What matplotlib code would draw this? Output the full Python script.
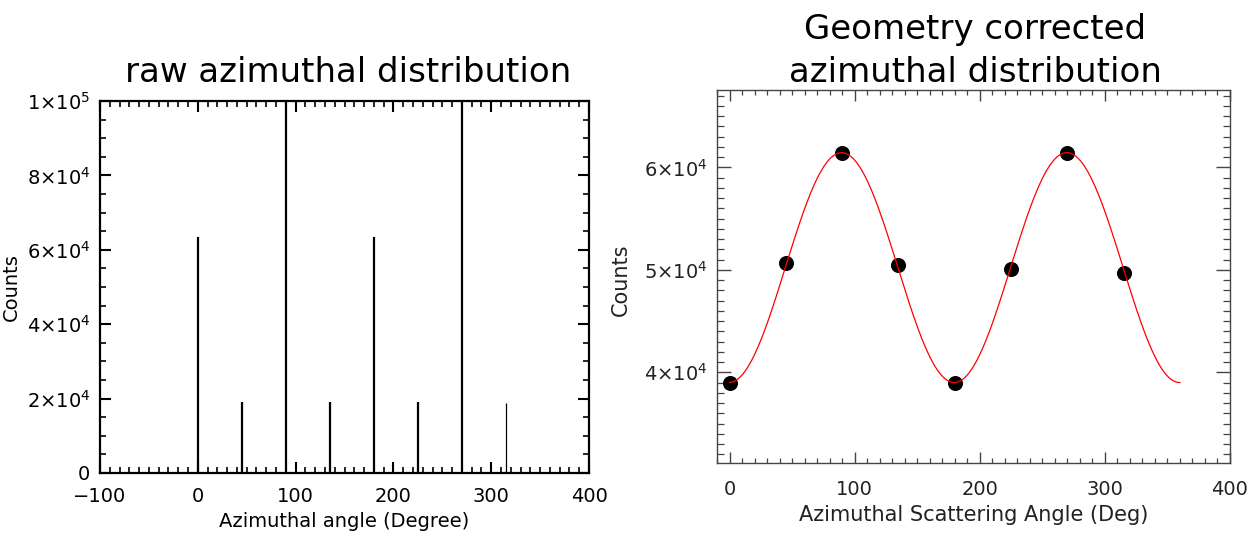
import numpy as np
import matplotlib
matplotlib.use("Agg")
import matplotlib.pyplot as plt
from matplotlib.ticker import MultipleLocator, FixedLocator

# ---- data ----
raw_angles = [0, 45, 90, 135, 180, 225, 270, 315]
raw_counts = [63500, 19100, 130000, 19100, 63500, 19100, 130000, 18900]
raw_widths = [1.6, 1.6, 1.6, 1.6, 1.6, 1.6, 1.6, 0.9]

corr_angles = [0, 45, 90, 135, 180, 225, 270, 315]
corr_counts = [38990, 50710, 61420, 50490, 38990, 50070, 61420, 49680]

left_yticks = [0, 20000, 40000, 60000, 80000, 100000]
left_yticklabels = ["0", "2×10$^{4}$", "4×10$^{4}$", "6×10$^{4}$",
                    "8×10$^{4}$", "1×10$^{5}$"]
left_xticks = [-100, 0, 100, 200, 300, 400]
left_xticklabels = ["−100", "0", "100", "200", "300", "400"]
right_yticks = [40000, 50000, 60000]
right_yticklabels = ["4×10$^{4}$", "5×10$^{4}$", "6×10$^{4}$"]
right_xticks = [0, 100, 200, 300, 400]

plt.rcParams['font.family'] = ['DejaVu Sans']
plt.rcParams['mathtext.fontset'] = 'dejavusans'

fig = plt.figure(figsize=(12.5, 5.38), dpi=100)
W, H = 1250.0, 538.0

# ---- left panel ----
axL = fig.add_axes([100 / W, 1 - 473 / H, 489 / W, (473 - 101) / H])
for a, c, w in zip(raw_angles, raw_counts, raw_widths):
    axL.vlines(a, 0, c, color='black', linewidth=w)
axL.set_xlim(-100, 400)
axL.set_ylim(0, 100000)
axL.xaxis.set_major_locator(FixedLocator(left_xticks))
axL.xaxis.set_minor_locator(MultipleLocator(10))
axL.yaxis.set_major_locator(FixedLocator(left_yticks))
axL.yaxis.set_minor_locator(MultipleLocator(5000))
axL.set_yticklabels(left_yticklabels)
axL.set_xticklabels(left_xticklabels)
for s in axL.spines.values():
    s.set_linewidth(1.6)
    s.set_color('black')
axL.tick_params(which='both', direction='in', top=True, right=True, colors='black')
axL.tick_params(which='major', length=8, width=1.5, labelsize=14, pad=7)
axL.tick_params(which='minor', length=4, width=1.2)
axL.tick_params(axis='x', which='major', pad=10)
axL.set_xlabel("Azimuthal angle (Degree)", fontsize=14)
axL.xaxis.set_label_coords(0.5, -(527 - 473) / 372.0, transform=axL.transAxes)
axL.xaxis.label.set_va('baseline')
axL.set_ylabel("Counts", fontsize=14)
axL.yaxis.set_label_coords(-(100 - 11) / 489.0, 0.5)
axL.yaxis.label.set_va('center')
fig.text(348 / W, 1 - 82 / H, "raw azimuthal distribution", fontsize=24.5,
         ha='center', va='baseline')

# ---- right panel ----
gray = '#444444'
axR = fig.add_axes([717 / W, 1 - 463 / H, 513 / W, (463 - 90) / H])
# least-squares fit of a + b*cos(2phi) + c*sin(2phi) to the points
phi = np.radians(corr_angles)
A = np.column_stack([np.ones_like(phi), np.cos(2 * phi), np.sin(2 * phi)])
coef, *_ = np.linalg.lstsq(A, np.array(corr_counts, dtype=float), rcond=None)
xf = np.linspace(0, 360, 400)
pf = np.radians(xf)
yf = coef[0] + coef[1] * np.cos(2 * pf) + coef[2] * np.sin(2 * pf)
axR.plot(corr_angles, corr_counts, 'o', color='black', markersize=9.8, zorder=2)
axR.plot(xf, yf, color='red', linewidth=0.9, zorder=3)
axR.set_xlim(-10, 400)
axR.set_ylim(31150, 67550)
axR.xaxis.set_major_locator(FixedLocator(right_xticks))
axR.xaxis.set_minor_locator(MultipleLocator(10))
axR.yaxis.set_major_locator(FixedLocator(right_yticks))
axR.yaxis.set_minor_locator(MultipleLocator(1000))
axR.set_yticklabels(right_yticklabels)
for s in axR.spines.values():
    s.set_linewidth(1.0)
    s.set_color(gray)
axR.tick_params(which='both', direction='in', top=True, right=True, colors=gray,
                labelcolor='#222222')
axR.tick_params(which='major', length=10, width=1.0, labelsize=14, pad=7)
axR.tick_params(which='minor', length=5, width=0.9)
axR.tick_params(axis='x', which='major', length=8, pad=12)
axR.tick_params(axis='x', which='minor', length=3.5)
axR.set_xlabel("Azimuthal Scattering Angle (Deg)", fontsize=15, color='#222222')
axR.xaxis.set_label_coords(0.5, -(521 - 463) / 373.0)
axR.xaxis.label.set_va('baseline')
axR.set_ylabel("Counts", fontsize=15, color='#222222')
axR.yaxis.set_label_coords(-(717 - 621) / 513.0, (463 - 280) / 373.0)
axR.yaxis.label.set_va('center')
fig.text(975 / W, 1 - 39 / H, "Geometry corrected", fontsize=24.5,
         ha='center', va='baseline')
fig.text(975 / W, 1 - 82 / H, "azimuthal distribution", fontsize=24.5,
         ha='center', va='baseline')

fig.savefig("out.png", dpi=100)
